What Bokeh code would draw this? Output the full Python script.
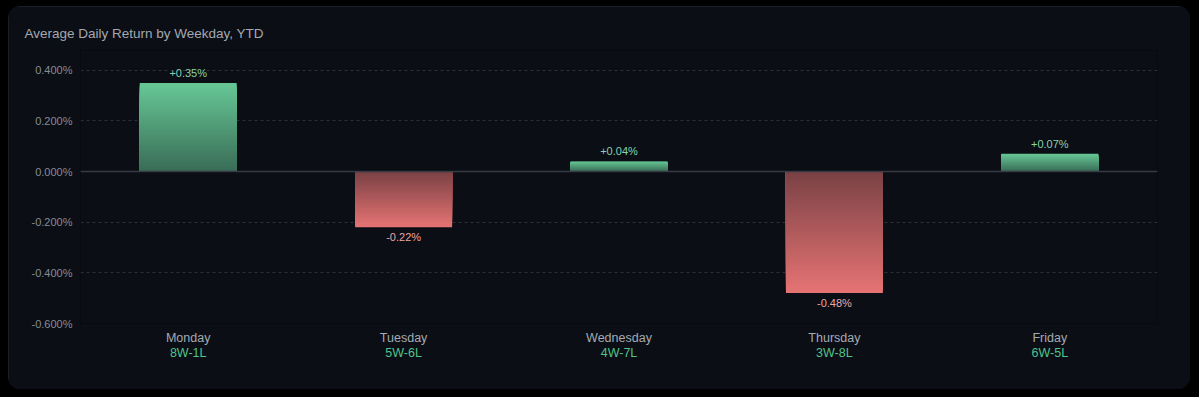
from bokeh.plotting import figure
from bokeh.models import (ColumnDataSource, FactorRange, Range1d, FixedTicker,
                          PrintfTickFormatter, CategoricalAxis, Span)
from bokeh.embed import file_html
from bokeh.resources import INLINE

# ---- data ----
days = ["Monday", "Tuesday", "Wednesday", "Thursday", "Friday"]
avg_return = [0.35, -0.22, 0.04, -0.48, 0.07]   # percent
value_labels = ["+0.35%", "-0.22%", "+0.04%", "-0.48%", "+0.07%"]
records = ["8W-1L", "5W-6L", "4W-7L", "3W-8L", "6W-5L"]
y_ticks = [-0.6, -0.4, -0.2, 0.0, 0.2, 0.4]
title_text = "Average Daily Return by Weekday, YTD"

# ---- style ----
BG = "#0b0e15"
GREEN = (102, 199, 149)
RED = (229, 115, 115)
BGRGB = (11, 14, 21)

def blend(c, a):
    r = [round(c[i] * a + BGRGB[i] * (1 - a)) for i in range(3)]
    return "#%02x%02x%02x" % tuple(r)

p = figure(width=1182, height=383, output_backend="svg", toolbar_location=None,
           x_range=FactorRange(*days), y_range=Range1d(-0.6, 0.478),
           min_border_left=72, min_border_right=33, min_border_top=44,
           min_border_bottom=66)
p.background_fill_color = BG
p.border_fill_color = BG
p.outline_line_color = None
p.styles = {"border-radius": "12px", "overflow": "hidden",
            "outline": "1px solid #20252e", "outline-offset": "-1px"}

p.title.text = title_text
p.title.text_font = "Liberation Sans"
p.title.text_font_size = "13.5px"
p.title.text_font_style = "normal"
p.title.text_color = "#a3a9b1"
p.title.align = "left"
p.title.offset = -56
p.title.standoff = 20

# gradient bars: nested bars, tip color drawn first, base color last
N = 40
bx, bb, bt, bc = [], [], [], []
for d, v in zip(days, avg_return):
    base = GREEN if v >= 0 else RED
    for k in range(N, 0, -1):
        f = k / N
        bx.append(d)
        bb.append(0.0)
        bt.append(v * f)
        bc.append(blend(base, 0.5 + 0.5 * f))
bars = ColumnDataSource(dict(x=bx, bottom=bb, top=bt, color=bc))
p.vbar(x="x", bottom="bottom", top="top", width=0.45, source=bars,
       fill_color="color", line_color=None)

# zero line
p.add_layout(Span(location=0, dimension="width", line_color="#363b44", line_width=1.5))

# value labels
pos = ColumnDataSource(dict(x=[d for d, v in zip(days, avg_return) if v >= 0],
                            y=[v for v in avg_return if v >= 0],
                            t=[l for l, v in zip(value_labels, avg_return) if v >= 0]))
neg = ColumnDataSource(dict(x=[d for d, v in zip(days, avg_return) if v < 0],
                            y=[v for v in avg_return if v < 0],
                            t=[l for l, v in zip(value_labels, avg_return) if v < 0]))
p.text(x="x", y="y", text="t", source=pos, text_align="center", text_baseline="bottom",
       y_offset=-4, text_font_size="11px", text_color="#86d4ab",
       text_font={"value": "Liberation Sans"})
p.text(x="x", y="y", text="t", source=neg, text_align="center", text_baseline="top",
       y_offset=4, text_font_size="11px", text_color="#eba6a6",
       text_font={"value": "Liberation Sans"})

# y axis
p.yaxis.ticker = FixedTicker(ticks=y_ticks)
p.yaxis.formatter = PrintfTickFormatter(format="%.3f%%")
p.yaxis.axis_line_color = None
p.yaxis.major_tick_line_color = None
p.yaxis.minor_tick_line_color = None
p.yaxis.major_tick_out = 0
p.yaxis.major_tick_in = 0
p.yaxis.major_label_standoff = 8
p.yaxis.major_label_text_color = "#868c95"
p.yaxis.major_label_text_font = "Liberation Sans"
p.yaxis.major_label_text_font_size = "11px"

p.ygrid.ticker = FixedTicker(ticks=y_ticks)
p.ygrid.grid_line_color = "#2a2f38"
p.ygrid.grid_line_dash = "3 3"
p.xgrid.grid_line_color = None

# x axes: day names then records
p.xaxis.axis_line_color = None
p.xaxis.major_tick_line_color = None
p.xaxis.major_tick_out = 0
p.xaxis.major_tick_in = 0
p.xaxis.major_label_standoff = 7
p.xaxis.major_label_text_color = "#a5abb3"
p.xaxis.major_label_text_font = "Liberation Sans"
p.xaxis.major_label_text_font_size = "12.5px"

p.extra_x_ranges = {"rec": FactorRange(*records)}
rec_axis = CategoricalAxis(x_range_name="rec")
rec_axis.axis_line_color = None
rec_axis.major_tick_line_color = None
rec_axis.major_tick_out = 0
rec_axis.major_tick_in = 0
rec_axis.major_label_standoff = -2
rec_axis.major_label_text_color = "#4fc38b"
rec_axis.major_label_text_font = "Liberation Sans"
rec_axis.major_label_text_font_size = "12.5px"
p.add_layout(rec_axis, "below")

html = file_html(p, INLINE)
html = html.replace("</head>", "<style>html,body{background:#000 !important;}body{margin:6px 8px !important;height:auto !important;}</style></head>", 1)
open("out.html", "w").write(html)
